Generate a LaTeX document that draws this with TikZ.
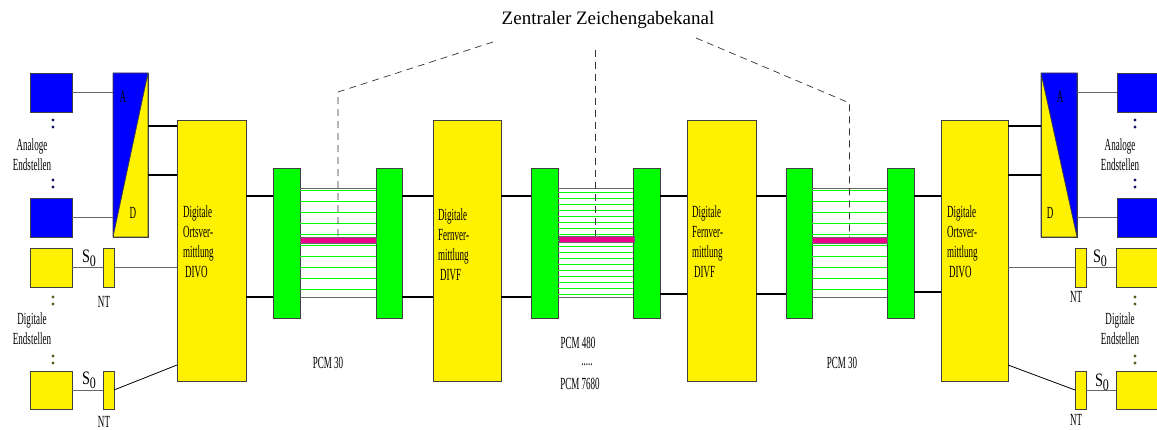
\documentclass[tikz,border=0pt]{standalone}
\usepackage{fontspec}
\setmainfont{Liberation Serif}
\newfontfamily\narrowserif[FakeStretch=0.53]{Liberation Serif}
\newfontfamily\semiserif[FakeStretch=0.75]{Liberation Serif}
\usepackage{tikz}
\usetikzlibrary{positioning}

\definecolor{dotblue}{RGB}{20,20,100}
\definecolor{dotolive}{RGB}{90,90,30}

\tikzset{
  box/.style={draw=black!75, line width=0.7pt, inner sep=0pt, outer sep=0pt},
  unitbox/.style={box, fill=green, minimum width=27, minimum height=150},
  exchbox/.style={box, fill=yellow, minimum width=68, minimum height=261},
  termbox/.style={box, minimum width=42, minimum height=39},
  ntbox/.style={box, fill=yellow, minimum width=11, minimum height=39},
  adbox/.style={box, fill=yellow, minimum width=35, minimum height=164},
  sigbar/.style={box, draw=black!60, line width=0.4pt, fill=magenta,
    minimum width=75, minimum height=6},
  trunk/.style={line width=1.6pt, black},
  wire/.style={line width=0.8pt, black!60},
  chan/.style={line width=0.9pt, green},
  signal/.style={line width=0.7pt, black!80, dash pattern=on 7pt off 5pt},
  lab/.style={inner sep=0pt, align=left, font=\narrowserif\fontsize{17}{20}\selectfont},
  clab/.style={lab, align=center}
}

\newcommand{\szero}{{\semiserif\fontsize{19}{19}\selectfont S\raisebox{-4pt}{\fontsize{16}{16}\selectfont 0}}}

\begin{document}
\begin{tikzpicture}[x=1pt, y=-1pt]
  \useasboundingbox (0,0) rectangle (1157,430);

  % exchanges and PCM line units
  \node [exchbox, minimum width=69] (divoL) at (211.5,250.5) {};
  \node [unitbox] (pcmA1) at (286.5,243) {};
  \node [unitbox, minimum width=26] (pcmA2) at (389,243) {};
  \node [exchbox] (divfL) at (467,250.5) {};
  \node [unitbox] (pcmB1) at (544.5,243) {};
  \node [unitbox] (pcmB2) at (646.5,243) {};
  \node [exchbox, minimum width=69] (divfR) at (721.5,250.5) {};
  \node [unitbox, minimum width=26] (pcmC1) at (799,243) {};
  \node [unitbox] (pcmC2) at (900.5,243) {};
  \node [exchbox, minimum width=67] (divoR) at (974.5,250.5) {};

  \node [lab, anchor=west] (divoLtxt) at (183,242)
    {Digitale\\Ortsver-\\mittlung\\\hspace*{2pt}DIVO};
  \node [lab, anchor=west] (divfLtxt) at (438,245)
    {Digitale\\Fernver-\\mittlung\\\hspace*{2pt}DIVF};
  \node [lab, anchor=west] (divfRtxt) at (692,242)
    {Digitale\\Fernver-\\mittlung\\\hspace*{2pt}DIVF};
  \node [lab, anchor=west] (divoRtxt) at (947,242)
    {Digitale\\Ortsver-\\mittlung\\\hspace*{2pt}DIVO};

  % A/D converters
  \node [adbox] (adL) at (130.5,155) {};
  \fill [blue] (adL.south west) -- (adL.north east) -- (adL.north west) -- cycle;
  \draw [box] (adL.south west) rectangle (adL.north east)
  (adL.south west) -- (adL.north east);
  \node [adbox, minimum width=36] (adR) at (1059,155) {};
  \fill [blue] (adR.north west) -- (adR.north east) -- (adR.south east) -- cycle;
  \draw [box] (adR.south west) rectangle (adR.north east)
  (adR.north west) -- (adR.south east);

  \node [lab] (adLa) at (123,97) {A};
  \node [lab] (adLd) at (133,213) {D};
  \node [lab] (adRa) at (1060,97) {A};
  \node [lab] (adRd) at (1050,213) {D};

  % channels between the line units
  \draw [wire]
  (pcmA1.east |- 0,188) -- (pcmA2.west |- 0,188)
  (pcmA1.east |- 0,297) -- (pcmA2.west |- 0,297)
  (pcmB1.east |- 0,188) -- (pcmB2.west |- 0,188)
  (pcmB1.east |- 0,297) -- (pcmB2.west |- 0,297)
  (pcmC1.east |- 0,188) -- (pcmC2.west |- 0,188)
  (pcmC1.east |- 0,297) -- (pcmC2.west |- 0,297);
  \foreach \y in {190,201,...,289} {
    \draw [chan] (pcmA1.east |- 0,\y) -- (pcmA2.west |- 0,\y);
    \draw [chan] (pcmC1.east |- 0,\y) -- (pcmC2.west |- 0,\y);
  }
  \foreach \y in {192,198,...,294}
    \draw [chan] (pcmB1.east |- 0,\y) -- (pcmB2.west |- 0,\y);

  \node [sigbar, minimum width=76] (sigA) at (338,240) {};
  \node [sigbar] (sigB) at (596.5,239.5) {};
  \node [sigbar] (sigC) at (849.5,240) {};

  % trunks
  \foreach \src/\dst/\ya/\yb in {adL/divoL/126/175, divoL/pcmA1/196/297,
      pcmA2/divfL/196/297, divfL/pcmB1/196/297, pcmB2/divfR/196/294,
      divfR/pcmC1/196/294, pcmC2/divoR/196/292, divoR/adR/126/175}
    \draw [trunk]
    (\src.east |- 0,\ya) -- (\dst.west |- 0,\ya)
    (\src.east |- 0,\yb) -- (\dst.west |- 0,\yb);

  % end devices
  \node [termbox, fill=blue] (anaL1) at (51,92.5) {};
  \node [termbox, fill=blue] (anaL2) at (51,217.5) {};
  \node [termbox, fill=yellow] (digL1) at (51,267.5) {};
  \node [termbox, fill=yellow, minimum height=38] (digL2) at (51,390) {};
  \node [ntbox] (ntL1) at (108.5,267.5) {};
  \node [ntbox, minimum height=38] (ntL2) at (108.5,390) {};

  \node [termbox, fill=blue] (anaR1) at (1138,92.5) {};
  \node [termbox, fill=blue] (anaR2) at (1138,217.5) {};
  \node [termbox, fill=yellow] (digR1) at (1137,267.5) {};
  \node [termbox, fill=yellow, minimum height=38] (digR2) at (1137,390) {};
  \node [ntbox] (ntR1) at (1080.5,267.5) {};
  \node [ntbox, minimum height=38] (ntR2) at (1080.5,390) {};

  \draw [wire]
  (anaL1.east) -- (anaL1.east -| adL.west)
  (anaL2.east) -- (anaL2.east -| adL.west)
  (digL1.east) -- (ntL1.west)
  (digL2.east) -- (ntL2.west)
  (ntL1.east) -- (ntL1.east -| divoL.west)
  (anaR1.west -| adR.east) -- (anaR1.west)
  (anaR2.west -| adR.east) -- (anaR2.west)
  (ntR1.east) -- (digR1.west)
  (ntR2.east) -- (digR2.west)
  (ntR1.west -| divoR.east) -- (ntR1.west);
  \draw [line width=0.8pt]
  (ntL2.east) -- (divoL.west |- 0,365)
  (divoR.east |- 0,365) -- (ntR2.west);

  \foreach \y in {120,127,180,187} {
    \fill [dotblue] (53,\y) circle (1.6pt);
    \fill [dotblue] (1135,\y) circle (1.6pt);
  }
  \foreach \y in {297,304,356,363} {
    \fill [dotolive] (53,\y) circle (1.6pt);
    \fill [dotolive] (1135,\y) circle (1.6pt);
  }

  \node [clab] (anaLlab) at (32,155) {Analoge\\Endstellen};
  \node [clab] (digLlab) at (32,328.5) {Digitale\\Endstellen};
  \node [clab] (anaRlab) at (1120,155) {Analoge\\Endstellen};
  \node [clab] (digRlab) at (1120,328.5) {Digitale\\Endstellen};

  \node [lab] (ntL1lab) at (104,302) {NT};
  \node [lab] (ntL2lab) at (104,422) {NT};
  \node [lab] (ntR1lab) at (1076,297) {NT};
  \node [lab] (ntR2lab) at (1076,420) {NT};

  \node [lab] (s0L1) at (89,258) {\szero};
  \node [lab] (s0L2) at (89,380) {\szero};
  \node [lab] (s0R1) at (1100,258) {\szero};
  \node [lab] (s0R2) at (1102,382) {\szero};

  \node [lab] (pcmAlab) at (328,363) {PCM 30};
  \node [lab] (pcmBlab) at (578,343) {PCM 480};
  \node [lab] (pcmBdots) at (587,365) {.....};
  \node [lab] (pcmBlab2) at (580,384) {PCM 7680};
  \node [lab] (pcmClab) at (842,363) {PCM 30};

  % signalling channel
  \node [inner sep=0pt, font=\fontsize{19}{22}\selectfont] (zzk) at (608,20)
    {Zentraler Zeichengabekanal};
  \coordinate (zzkL) at (493,42);
  \coordinate (zzkM) at (595,50);
  \coordinate (zzkR) at (696,38);
  \draw [signal] (zzkL) -- (sigA.north |- 0,92) -- (sigA.north);
  \draw [signal] (zzkM) -- (zzkM |- sigB.north);
  \draw [signal] (zzkR) -- (sigC.north |- 0,103) -- (sigC.north);
\end{tikzpicture}
\end{document}
